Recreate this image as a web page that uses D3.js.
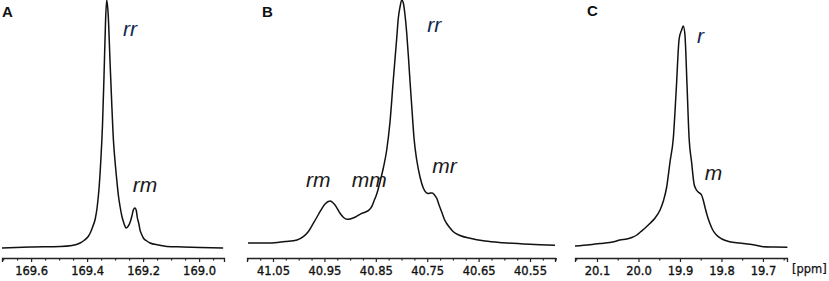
<!DOCTYPE html>
<html>
<head>
<meta charset="utf-8">
<script src="https://cdn.jsdelivr.net/npm/d3@7"></script>
<style>
  html, body { margin: 0; padding: 0; background: #fff; }
  svg { display: block; }
</style>
</head>
<body>
<svg id="chart" width="829" height="281"></svg>
<script>
// ---------- DATA (ppm, intensity in arbitrary units) ----------
// Panel A: carbonyl region
const ppmA = [169.704,169.604,169.496,169.454,169.425,169.411,169.396,169.388,169.379,169.371,
  169.364,169.357,169.350,169.345,169.339,169.334,169.330,169.325,169.318,169.3125,
  169.306,169.300,169.294,169.288,169.282,169.276,169.270,169.265,169.261,169.254,
  169.246,169.240,169.235,169.229,169.224,169.221,169.215,169.211,169.205,169.199,
  169.187,169.175,169.146,169.115,169.057,168.996,168.914];
const intA = [2,3,3.5,4.5,7,9.5,13.5,17.5,24,31,
  43,63,95,125,180,230,250,237,188,150,
  110,88,70,54,43,34,28,24,22,23.5,
  28,34,40,42,39,33,26,20,15.5,12,
  9,7,5,3.5,3,2.5,2];
// Panel B: methine region
const ppmB = [41.0986,41.0558,41.0267,41.0033,40.9911,40.9819,40.9716,40.9644,40.9586,40.9488,
  40.9391,40.9294,40.9196,40.9128,40.9054,40.8982,40.8905,40.8774,40.8646,40.8580,
  40.8535,40.8482,40.8418,40.8354,40.8288,40.8224,40.8160,40.8093,40.8062,40.8029,
  40.7996,40.7965,40.7932,40.7899,40.7868,40.7835,40.7796,40.7757,40.7704,40.7640,
  40.7576,40.7523,40.7479,40.7436,40.7401,40.7358,40.7315,40.7270,40.7218,40.7173,
  40.7121,40.7056,40.6992,40.6862,40.6667,40.6375,40.6020,40.5500,40.5014];
const intB = [7,7,8.5,10,13.3,18,26.7,33,38.3,46,
  49,45,36.7,32.5,30.7,31.3,32.7,36.7,39.3,43.3,
  49,56,68,82,100,128,170,212,232,243,
  250,247,235,217,195,169,140,112,90,73,
  62,57.5,56.5,57,57,55,51.7,45,38,31.5,
  26.5,22,18.3,14.5,11.7,9,7.3,5.7,4.7];
// Panel C: methyl region
const ppmC = [20.153,20.117,20.093,20.069,20.057,20.045,20.028,20.016,20.004,19.994,
  19.984,19.972,19.960,19.948,19.940,19.932,19.924,19.916,19.909,19.902,
  19.896,19.892,19.888,19.883,19.878,19.872,19.866,19.861,19.856,19.848,
  19.844,19.840,19.834,19.828,19.821,19.812,19.799,19.780,19.756,19.731,
  19.714,19.699,19.671,19.641];
const intC = [4,5.3,6.5,7.5,8.5,10,11,12.5,15,18.5,
  22,26.7,32,40,49,63,88,112,160,211,
  220,224,215,165,112,88,66,60.5,58,55,
  50,43.3,34,26.7,20,15,11,8.3,7,5.7,
  4.5,3.3,3,2.7];

// tick labels
const ticksA = [169.6,169.4,169.2,169.0];
const ticksB = [41.05,40.95,40.85,40.75,40.65,40.55];
const ticksC = [20.1,20.0,19.9,19.8,19.7];
// minor tick positions
const minorA = [169.7,169.65,169.55,169.5,169.45,169.35,169.3,169.25,169.15,169.1,169.05,168.95];
const minorB = [41.1,41.075,41.025,41.0,40.975,40.925,40.9,40.875,40.825,40.8,40.775,40.725,40.7,40.675,40.625,40.6,40.575,40.525,40.5];
const minorC = [20.15,20.05,19.95,19.85,19.75,19.65];

const panelLetters = ["A","B","C"];
const peakLabels = [
  {panel:0, text:"rr", ppm:169.272, y:214, main:true},
  {panel:0, text:"rm", ppm:169.237, y:58},
  {panel:1, text:"rr", ppm:40.750, y:218, main:true},
  {panel:1, text:"rm", ppm:40.986, y:63},
  {panel:1, text:"mm", ppm:40.897, y:63},
  {panel:1, text:"mr", ppm:40.740, y:77},
  {panel:2, text:"r", ppm:19.859, y:207, main:true},
  {panel:2, text:"m", ppm:19.840, y:70}
];

// ---------- LAYOUT ----------
const svg = d3.select("#chart");
const axisY = 258;
const yScale = d3.scaleLinear().domain([0, 250]).range([250, 0]);

const panels = [
  {ppm: ppmA, int: intA, domain:[169.704,168.911], range:[2,224], ticks:ticksA, minor:minorA, fmt:d3.format(".1f"), letterX:2, letterY:17},
  {ppm: ppmB, int: intB, domain:[41.1006,40.5014], range:[247,555], ticks:ticksB, minor:minorB, fmt:d3.format(".2f"), letterX:262, letterY:17},
  {ppm: ppmC, int: intC, domain:[20.153,19.642], range:[575,787], ticks:ticksC, minor:minorC, fmt:d3.format(".1f"), letterX:587, letterY:16}
];

const tickFont = "DejaVu Sans, Verdana, sans-serif";

panels.forEach((p, i) => {
  const x = d3.scaleLinear().domain(p.domain).range(p.range);
  p.x = x;
  const data = p.ppm.map((v, k) => ({ppm: v, y: p.int[k]}));
  const line = d3.line()
    .x(d => x(d.ppm))
    .y(d => yScale(d.y))
    .curve(d3.curveMonotoneX);
  svg.append("path")
    .datum(data)
    .attr("d", line)
    .attr("fill", "none")
    .attr("stroke", "#111")
    .attr("stroke-width", 1.5)
    .attr("stroke-linejoin", "round");

  // minor ticks
  const gMinor = svg.append("g")
    .attr("transform", `translate(0,${axisY})`)
    .call(d3.axisBottom(x).tickValues(p.minor).tickSize(2.5).tickSizeOuter(0).tickFormat(""));
  gMinor.select(".domain").remove();
  gMinor.selectAll("line").attr("stroke", "#222").attr("stroke-width", 1.2);

  // major ticks + labels
  const g = svg.append("g")
    .attr("transform", `translate(0,${axisY})`)
    .call(d3.axisBottom(x).tickValues(p.ticks).tickSize(4).tickSizeOuter(4).tickPadding(5).tickFormat(p.fmt));
  g.select(".domain").attr("stroke", "#222").attr("stroke-width", 1.3);
  g.selectAll("line").attr("stroke", "#222").attr("stroke-width", 1.2);
  g.selectAll("text")
    .attr("font-family", tickFont)
    .attr("font-size", 11.5)
    .attr("fill", "#111")
    .attr("stroke", "#111")
    .attr("stroke-width", 0.35);

  svg.append("text")
    .attr("x", p.letterX).attr("y", p.letterY)
    .attr("font-family", "Liberation Sans, Arial, sans-serif")
    .attr("font-weight", "bold")
    .attr("font-size", 15)
    .attr("fill", "#111")
    .text(panelLetters[i]);
});

peakLabels.forEach(l => {
  const p = panels[l.panel];
  svg.append("text")
    .attr("x", p.x(l.ppm))
    .attr("y", yScale(l.y))
    .attr("font-family", "Liberation Sans, Arial, sans-serif")
    .attr("font-style", "italic")
    .attr("font-size", 21)
    .attr("fill", l.main ? "#10284f" : "#1a1a1a")
    .text(l.text);
});

svg.append("text")
  .attr("x", 792).attr("y", 273)
  .attr("font-family", tickFont)
  .attr("font-size", 11.5)
  .attr("fill", "#111")
  .attr("stroke", "#111")
  .attr("stroke-width", 0.25)
  .text("[ppm]");
</script>
</body>
</html>
